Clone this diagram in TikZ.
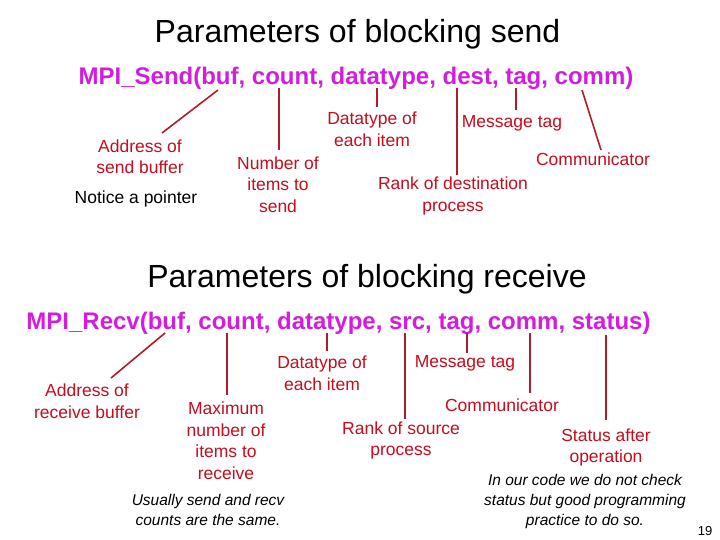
\documentclass[tikz,border=0pt]{standalone}
\usepackage{fontspec}
\setmainfont{Liberation Sans}
\definecolor{mpimag}{RGB}{210,30,220}
\definecolor{lblred}{RGB}{196,14,30}
\definecolor{lnred}{RGB}{175,28,42}
\begin{document}
\begin{tikzpicture}[x=1pt,y=-1pt,
  title/.style={inner sep=0pt,font=\fontsize{32}{36}\selectfont},
  call/.style={inner sep=0pt,text=mpimag,font=\bfseries\fontsize{24}{28}\selectfont},
  lbl/.style={inner sep=0pt,align=center,text=lblred,font=\fontsize{17.5}{21.5}\selectfont},
  note/.style={inner sep=0pt,align=center,font=\itshape\fontsize{15.5}{20}\selectfont},
  conn/.style={draw=lnred,line width=1.6pt}]
\useasboundingbox (0,0) rectangle (720,540);
\fill[white] (0,0) rectangle (720,540);
% ---------- send ----------
\node[title] (t1) at (357.5,34) {Parameters of blocking send};
\node[call] (c1) at (356,78) {MPI\_Send(buf, count, datatype, dest, tag, comm)};
\node[lbl] (sbuf) at (140,156.5) {Address of\\send buffer};
\node[inner sep=0pt,font=\fontsize{17.5}{21.5}\selectfont] (snote) at (136,199) {Notice a pointer};
\node[lbl] (scnt) at (278,184.5) {Number of\\items to\\send};
\node[lbl] (sdt) at (372,129.5) {Datatype of\\each item};
\node[lbl] (stag) at (512,123.5) {Message tag};
\node[lbl] (scomm) at (593,159.5) {Communicator};
\node[lbl] (sdest) at (453,196) {Rank of destination\\process};
\coordinate (sbufA) at (218,90);  \coordinate (sbufB) at (162,133);
\coordinate (scntA) at (279,88);  \coordinate (scntB) at (279,150);
\coordinate (sdtA) at (377,88);   \coordinate (sdtB) at (377,107);
\coordinate (sdestA) at (457,88); \coordinate (sdestB) at (457,175);
\coordinate (stagA) at (516,88);  \coordinate (stagB) at (516,110);
\coordinate (scommA) at (582,90); \coordinate (scommB) at (601,150);
\draw[conn] (sbufA) -- (sbufB);
\draw[conn] (scntA) -- (scntB);
\draw[conn] (sdtA) -- (sdtB);
\draw[conn] (sdestA) -- (sdestB);
\draw[conn] (stagA) -- (stagB);
\draw[conn] (scommA) -- (scommB);
% ---------- receive ----------
\node[title] (t2) at (367,279) {Parameters of blocking receive};
\node[call] (c2) at (338.5,323) {MPI\_Recv(buf, count, datatype, src, tag, comm, status)};
\node[lbl] (rbuf) at (87,401) {Address of\\receive buffer};
\node[lbl] (rcnt) at (226,440.5) {Maximum\\number of\\items to\\receive};
\node[lbl] (rdt) at (322,373.5) {Datatype of\\each item};
\node[lbl] (rtag) at (465,363) {Message tag};
\node[lbl] (rcomm) at (502,405.5) {Communicator};
\node[lbl] (rsrc) at (401,440.5) {Rank of source\\process};
\node[lbl] (rstat) at (606,447.5) {Status after\\operation};
\node[note] (rnote1) at (208,510) {Usually send and recv\\counts are the same.};
\node[note] (rnote2) at (585,501) {In our code we do not check\\status but good programming\\practice to do so.};
\node[inner sep=0pt,font=\fontsize{13}{15}\selectfont] (pg) at (705,531) {19};
\coordinate (rbufA) at (165,333);  \coordinate (rbufB) at (111,378);
\coordinate (rcntA) at (227,333);  \coordinate (rcntB) at (227,395);
\coordinate (rdtA) at (327,333);   \coordinate (rdtB) at (327,351);
\coordinate (rsrcA) at (405,333);  \coordinate (rsrcB) at (405,419);
\coordinate (rtagA) at (467,333);  \coordinate (rtagB) at (467,353);
\coordinate (rcommA) at (530,333); \coordinate (rcommB) at (530,393);
\coordinate (rstatA) at (606,335); \coordinate (rstatB) at (606,420);
\draw[conn] (rbufA) -- (rbufB);
\draw[conn] (rcntA) -- (rcntB);
\draw[conn] (rdtA) -- (rdtB);
\draw[conn] (rsrcA) -- (rsrcB);
\draw[conn] (rtagA) -- (rtagB);
\draw[conn] (rcommA) -- (rcommB);
\draw[conn] (rstatA) -- (rstatB);
\end{tikzpicture}
\end{document}
